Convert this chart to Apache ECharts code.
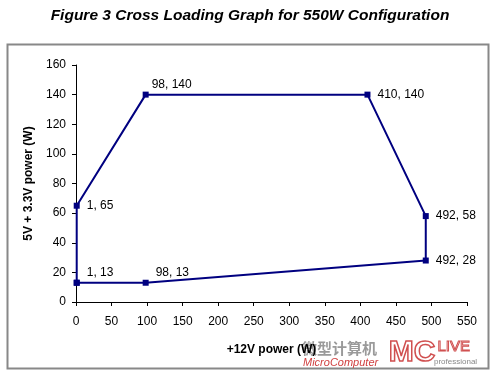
<!DOCTYPE html>
<html><head><meta charset="utf-8">
<script src="https://cdn.jsdelivr.net/npm/echarts@6/dist/echarts.min.js"></script>
<style>html,body{margin:0;padding:0;background:#fff}#c{width:500px;height:375px}</style>
</head><body><div id="c"></div>
<script>
// Data
var xValues = [1, 1, 98, 410, 492, 492, 98, 1];
var yValues = [13, 65, 140, 140, 58, 28, 13, 13];
var pointLabels = ["1, 13", "1, 65", "98, 140", "410, 140", "492, 58", "492, 28", "98, 13", ""];
var xTicks = [0, 50, 100, 150, 200, 250, 300, 350, 400, 450, 500, 550];
var yTicks = [0, 20, 40, 60, 80, 100, 120, 140, 160];

// label placement styles (not data)
var labelStyle = [
  {position: 'right', offset: [2, -10]},
  {position: 'right', offset: [2, 0]},
  {position: 'right', offset: [-2, -10]},
  {position: 'right', offset: [2, 0]},
  {position: 'right', offset: [2, 0]},
  {position: 'right', offset: [2, 0]},
  {position: 'right', offset: [2, -10]},
  {position: 'right', offset: [0, 0]}
];

var seriesData = xValues.map(function (x, i) {
  return {
    value: [x, yValues[i]],
    label: {show: pointLabels[i] !== '', formatter: pointLabels[i], position: labelStyle[i].position, offset: labelStyle[i].offset}
  };
});

var chart = echarts.init(document.getElementById('c'), null, {renderer: 'canvas'});
var font = 'Liberation Sans, Arial, sans-serif';
chart.setOption({
  animation: false,
  backgroundColor: '#fff',
  title: {
    text: 'Figure 3 Cross Loading Graph for 550W Configuration',
    left: 'center', top: 3,
    textStyle: {fontFamily: font, fontSize: 15.5, fontWeight: 'bold', fontStyle: 'italic', color: '#000'}
  },
  grid: {left: 76, right: 33, top: 65, bottom: 73},
  xAxis: {
    type: 'value', min: xTicks[0], max: xTicks[xTicks.length - 1], interval: 50,
    name: '+12V power (W)', nameLocation: 'middle', nameGap: 42,
    nameTextStyle: {fontFamily: font, fontSize: 12, fontWeight: 'bold', color: '#000'},
    axisLine: {lineStyle: {color: '#000', width: 1}},
    axisTick: {show: true, inside: false, length: 4, lineStyle: {color: '#000'}},
    axisLabel: {fontFamily: font, fontSize: 12, color: '#000', margin: 14},
    splitLine: {show: false}
  },
  yAxis: {
    type: 'value', min: yTicks[0], max: yTicks[yTicks.length - 1], interval: 20,
    name: '5V + 3.3V power (W)', nameLocation: 'middle', nameGap: 40,
    nameTextStyle: {fontFamily: font, fontSize: 12, fontWeight: 'bold', color: '#000'},
    axisLine: {show: true, lineStyle: {color: '#000', width: 1}},
    axisTick: {show: true, inside: false, length: 4, lineStyle: {color: '#000'}},
    axisLabel: {fontFamily: font, fontSize: 12, color: '#000', margin: 10},
    splitLine: {show: false}
  },
  series: [{
    type: 'line',
    data: seriesData,
    symbol: 'rect', symbolSize: 6,
    lineStyle: {color: '#000080', width: 2},
    itemStyle: {color: '#000080'},
    label: {fontFamily: font, fontSize: 12, color: '#000'}
  }],
  graphic: [
    {type: 'rect', shape: {x: 7.5, y: 44.5, width: 481, height: 324}, style: {fill: null, stroke: '#888', lineWidth: 2}, silent: true, z: -1},
    {type: 'text', left: 302, top: 341, style: {text: '微型计算机', font: 'bold 15px "Noto Sans CJK SC"', fill: '#9a9a9a'}},
    {type: 'text', left: 303, top: 357, style: {text: 'MicroComputer', font: 'italic 11px "Liberation Sans"', fill: '#d04040'}},
    {type: 'text', left: 388, top: 337, style: {text: 'MC', font: 'bold 30px "Liberation Sans"', fill: 'rgba(255,255,255,0)', stroke: '#d05050', lineWidth: 1.5}},
    {type: 'text', left: 437, top: 339, style: {text: 'LIVE', font: '15px "Liberation Sans"', fill: 'rgba(255,255,255,0)', stroke: '#d05050', lineWidth: 1}},
    {type: 'text', left: 434, top: 358, style: {text: 'professional', font: '8px "Liberation Sans"', fill: '#888'}}
  ]
});
</script>
</body></html>
